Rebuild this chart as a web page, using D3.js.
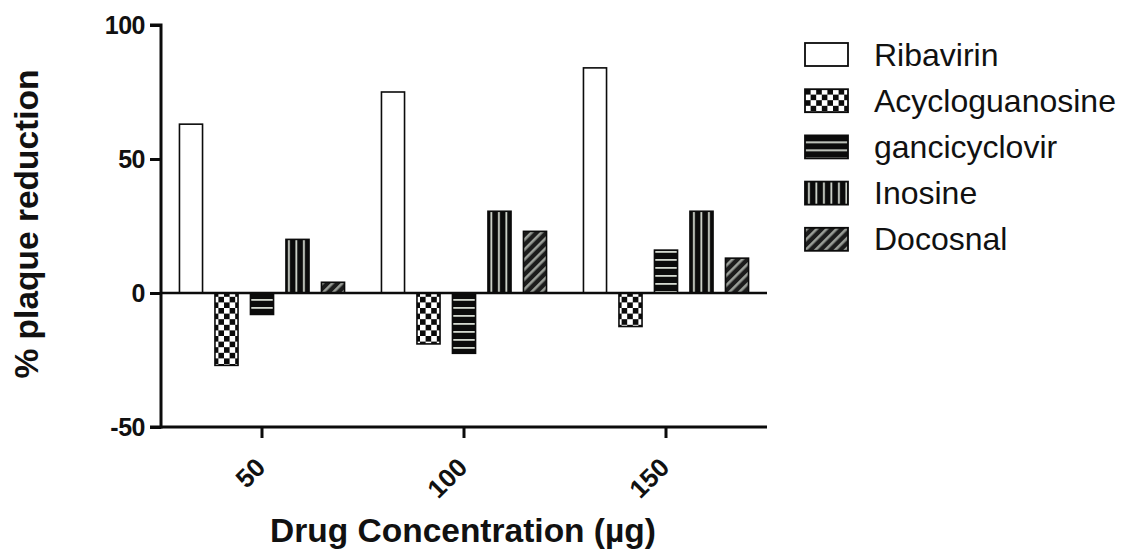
<!DOCTYPE html>
<html>
<head>
<meta charset="utf-8">
<script src="https://cdn.jsdelivr.net/npm/d3@7"></script>
<style>
  html, body { margin: 0; padding: 0; background: #fff; }
  svg { display: block; font-family: "Liberation Sans", Arial, sans-serif; }
</style>
</head>
<body>
<svg id="chart" width="1129" height="552"></svg>
<script>
// Plaque reduction by drug and concentration
const concentrations = ["50", "100", "150"];
const drugs = ["Ribavirin", "Acycloguanosine", "gancicyclovir", "Inosine", "Docosnal"];
const ribavirin       = [63, 75, 84];
const acycloguanosine = [-27, -19, -12.5];
const gancicyclovir   = [-8, -22.5, 16];
const inosine         = [20, 30.5, 30.5];
const docosnal        = [4, 23, 13];
const yTicks = [-50, 0, 50, 100];

const seriesValues = [ribavirin, acycloguanosine, gancicyclovir, inosine, docosnal];
const rows = [];
concentrations.forEach((c, ci) => {
  drugs.forEach((d, di) => rows.push({ conc: c, drug: d, value: seriesValues[di][ci] }));
});

const svg = d3.select("#chart");
const defs = svg.append("defs");

// fill patterns
const ink = "#0b0b0b";
const pale = "#d3d8cf";

// checkerboard
{
  const s = 5.6;
  const p = defs.append("pattern").attr("id", "pat-check").attr("patternUnits", "userSpaceOnUse")
    .attr("width", 2 * s).attr("height", 2 * s);
  p.append("rect").attr("width", 2 * s).attr("height", 2 * s).attr("fill", "#fff");
  p.append("rect").attr("width", s).attr("height", s).attr("fill", ink);
  p.append("rect").attr("x", s).attr("y", s).attr("width", s).attr("height", s).attr("fill", ink);
}
// horizontal stripes
{
  const per = 8;
  const p = defs.append("pattern").attr("id", "pat-horiz").attr("patternUnits", "userSpaceOnUse")
    .attr("width", per).attr("height", per);
  p.append("rect").attr("width", per).attr("height", per).attr("fill", ink);
  p.append("rect").attr("y", 3).attr("width", per).attr("height", 1.8).attr("fill", pale);
}
// vertical stripes
{
  const per = 7.5;
  const p = defs.append("pattern").attr("id", "pat-vert").attr("patternUnits", "userSpaceOnUse")
    .attr("width", per).attr("height", per);
  p.append("rect").attr("width", per).attr("height", per).attr("fill", ink);
  p.append("rect").attr("x", 3).attr("width", 1.8).attr("height", per).attr("fill", pale);
}
// diagonal hatch
{
  const per = 7;
  const p = defs.append("pattern").attr("id", "pat-diag").attr("patternUnits", "userSpaceOnUse")
    .attr("width", per).attr("height", per).attr("patternTransform", "rotate(45)");
  p.append("rect").attr("width", per).attr("height", per).attr("fill", "#1c1c1c");
  p.append("rect").attr("x", 0).attr("width", 2.6).attr("height", per).attr("fill", "#9a9e98");
}

const fills = {
  "Ribavirin": "#ffffff",
  "Acycloguanosine": "url(#pat-check)",
  "gancicyclovir": "url(#pat-horiz)",
  "Inosine": "url(#pat-vert)",
  "Docosnal": "url(#pat-diag)"
};

// plot frame and scales
const plotLeft = 161, plotRight = 767, plotTop = 25, plotBottom = 427;
const x0 = d3.scaleBand().domain(concentrations).range([plotLeft, plotRight]).paddingInner(0).paddingOuter(0);
const x1 = d3.scaleBand().domain(drugs).range([0, x0.bandwidth()]).paddingInner(0.35).paddingOuter(0.52);
const y = d3.scaleLinear().domain([-50, 100]).range([plotBottom, plotTop]);

// bars
svg.append("g").selectAll("rect").data(rows).join("rect")
  .attr("x", d => x0(d.conc) + x1(d.drug))
  .attr("width", x1.bandwidth())
  .attr("y", d => y(Math.max(0, d.value)))
  .attr("height", d => Math.abs(y(d.value) - y(0)))
  .attr("fill", d => fills[d.drug])
  .attr("stroke", ink)
  .attr("stroke-width", 1.6);

// zero line
svg.append("line")
  .attr("x1", plotLeft).attr("x2", plotRight)
  .attr("y1", y(0)).attr("y2", y(0))
  .attr("stroke", ink).attr("stroke-width", 2.6);

// y axis (plain hyphen for negatives)
const yAxis = svg.append("g").attr("transform", `translate(${plotLeft},0)`)
  .call(d3.axisLeft(y).tickValues(yTicks).tickSize(11).tickPadding(5).tickFormat(d => String(d)));
yAxis.select(".domain").attr("stroke", ink).attr("stroke-width", 3).attr("d", `M-11,${plotTop}H0V${plotBottom}H-11`);
yAxis.selectAll(".tick line").attr("stroke", ink).attr("stroke-width", 3);
yAxis.selectAll(".tick text")
  .attr("font-size", 25).attr("font-weight", "bold").attr("fill", "#111")
  .attr("font-family", "Liberation Sans, Arial, sans-serif")
  .attr("letter-spacing", "-0.5px");

// x axis
const xAxis = svg.append("g").attr("transform", `translate(0,${plotBottom})`)
  .call(d3.axisBottom(x0).tickSize(11).tickPadding(0));
xAxis.select(".domain").attr("stroke", ink).attr("stroke-width", 3).attr("d", `M${plotLeft},0H${plotRight}`);
xAxis.selectAll(".tick line").attr("stroke", ink).attr("stroke-width", 3);
xAxis.selectAll(".tick text")
  .attr("font-size", 26).attr("font-weight", "bold").attr("fill", "#111")
  .attr("font-family", "Liberation Sans, Arial, sans-serif")
  .attr("text-anchor", "end")
  .attr("dy", null)
  .attr("y", 0)
  .attr("transform", "translate(5,42) rotate(-45)");

// axis titles
svg.append("text")
  .attr("transform", "translate(38,224) rotate(-90)")
  .attr("text-anchor", "middle")
  .attr("font-size", 33.5).attr("font-weight", "bold").attr("fill", "#111")
  .text("% plaque reduction");

svg.append("text")
  .attr("x", 463).attr("y", 542)
  .attr("text-anchor", "middle")
  .attr("font-size", 33.5).attr("font-weight", "bold").attr("fill", "#111")
  .text("Drug Concentration (\u00b5g)");

// legend
const legend = svg.append("g").attr("transform", "translate(805,54)");
const item = legend.selectAll("g").data(drugs).join("g")
  .attr("transform", (d, i) => `translate(0,${i * 46.2})`);
item.append("rect")
  .attr("x", 0).attr("y", -11).attr("width", 43).attr("height", 23)
  .attr("fill", d => fills[d]).attr("stroke", ink).attr("stroke-width", 1.8);
item.append("text")
  .attr("x", 69).attr("y", 0).attr("dy", "0.36em")
  .attr("font-size", 32).attr("fill", "#111")
  .text(d => d);
</script>
</body>
</html>
